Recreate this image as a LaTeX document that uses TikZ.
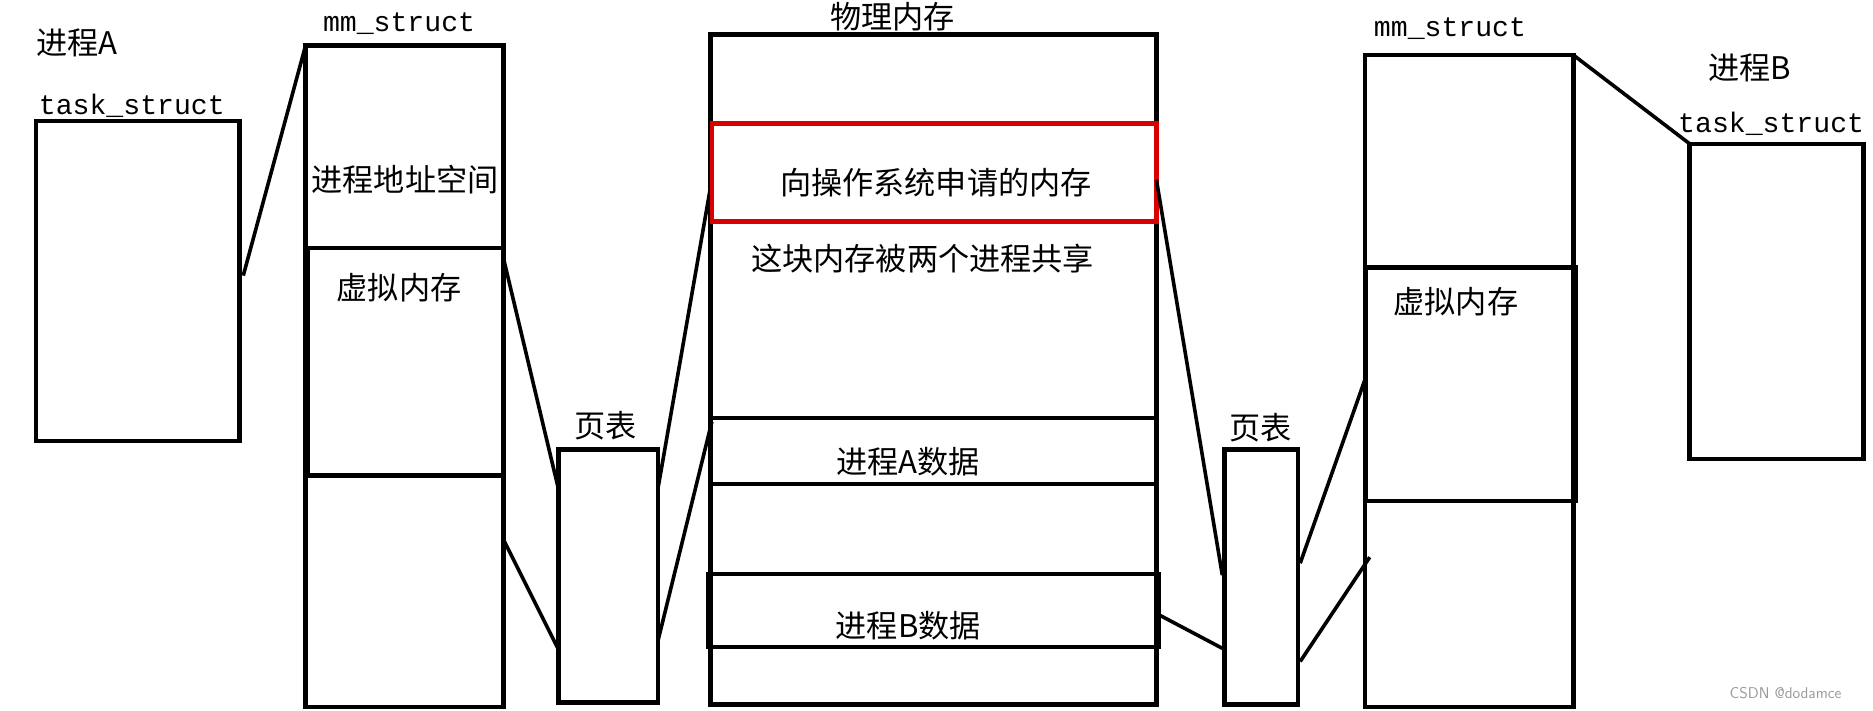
\documentclass[tikz,border=0pt]{standalone}
\usepackage{fontspec}
\newfontfamily\cjk{Noto Sans CJK SC}
\newfontfamily\mono{Liberation Mono}
\begin{document}
\begin{tikzpicture}[x=1pt,y=-1pt,
  box/.style={draw=black,line width=3.8pt},
  link/.style={draw=black,line width=3pt},
  zh/.style={font=\cjk\fontsize{26}{26}\selectfont,inner sep=0pt},
  mn/.style={font=\mono\fontsize{23.5}{23.5}\selectfont,inner sep=0pt}]
\useasboundingbox (0,0) rectangle (1563,593);
\fill[white] (0,0) rectangle (1563,593);
% process A
\node[zh] (pa) at (64,36) {进程A};
\node[mn] (tsa) at (110,88) {task\_struct};
\draw[box] (30,101) rectangle (200,368);
\coordinate (tsaR) at (203,230);
% left mm_struct
\node[mn] (mma) at (333,20) {mm\_struct};
\draw[box] (255,38) rectangle (420,590);
\draw[box] (257,207) rectangle (420,397);
\coordinate (mmaTL) at (255,38);
\node[zh] at (338,150) {进程地址空间};
\node[zh] at (333,240) {虚拟内存};
\draw[link] (tsaR) -- (mmaTL);
% left page table
\node[zh] (pt1) at (505,355) {页表};
\draw[box] (466,375) rectangle (549,586);
\draw[link] (420,215) -- (466,408);
\draw[link] (420,450) -- (466,542);
\draw[link] (549,408) -- (594,150);
\draw[link] (549,535) -- (594,352);
% physical memory
\node[zh] (pm) at (745,14) {物理内存};
\draw[box] (593,29) rectangle (965,588);
\draw[draw=red!85!black,line width=3.8pt] (594,103) rectangle (965,185);
\node[zh] at (781,152) {向操作系统申请的内存};
\node[zh] at (770,216) {这块内存被两个进程共享};
\draw[box] (593,349) rectangle (965,404);
\node[zh] at (758,385) {进程A数据};
\draw[box] (591,479) rectangle (967,540);
\node[zh] at (758,522) {进程B数据};
% right page table
\node[zh] (pt2) at (1052,357) {页表};
\draw[box] (1022,375) rectangle (1083,588);
\draw[link] (965,150) -- (1020,480);
\draw[link] (967,513) -- (1020,541);
\draw[link] (1085,470) -- (1140,314);
\draw[link] (1085,552) -- (1143,465);
% right mm_struct
\node[mn] (mmb) at (1210,24) {mm\_struct};
\draw[box] (1139,46) rectangle (1313,590);
\draw[box] (1140,223) rectangle (1315,418);
\node[zh] at (1215,252) {虚拟内存};
% process B
\node[zh] (pb) at (1460,57) {进程B};
\node[mn] (tsb) at (1478,103) {task\_struct};
\draw[box] (1410,120) rectangle (1555,383);
\draw[link] (1313,46) -- (1410,120);
\node[font=\fontsize{13}{13}\selectfont\sffamily,text=black!40,inner sep=0pt] (wm) at (1490,578) {CSDN @dodamce};
\end{tikzpicture}
\end{document}
